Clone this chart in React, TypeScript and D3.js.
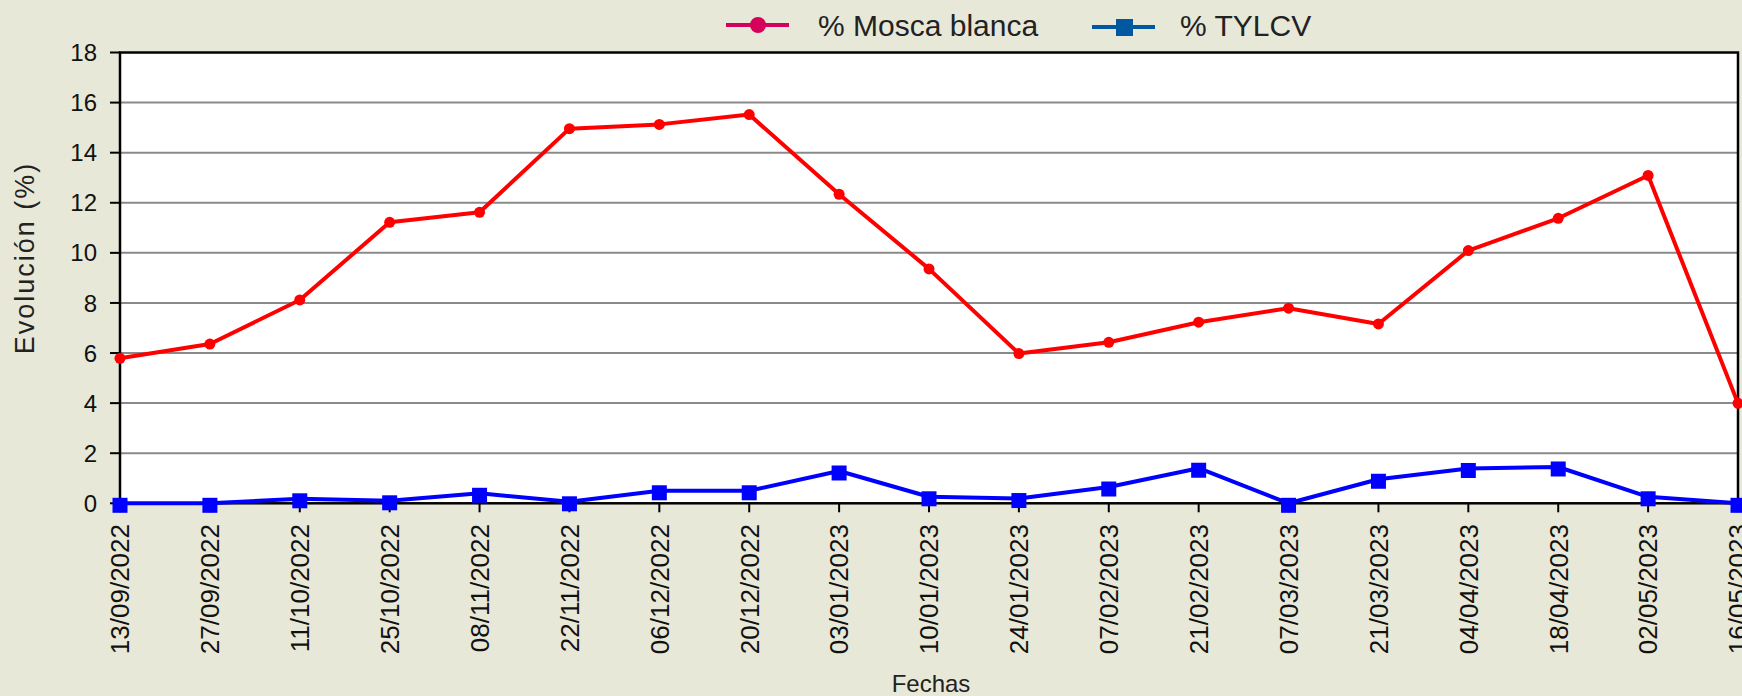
import * as d3 from 'd3';
import * as React from 'react';

const fechas = [
  '13/09/2022', '27/09/2022', '11/10/2022', '25/10/2022', '08/11/2022',
  '22/11/2022', '06/12/2022', '20/12/2022', '03/01/2023', '10/01/2023',
  '24/01/2023', '07/02/2023', '21/02/2023', '07/03/2023', '21/03/2023',
  '04/04/2023', '18/04/2023', '02/05/2023', '16/05/2023',
];

const moscaBlanca = [
  5.79, 6.36, 8.12, 11.22, 11.62, 14.96, 15.13, 15.52, 12.34, 9.36,
  5.98, 6.43, 7.23, 7.79, 7.16, 10.09, 11.38, 13.09, 3.99,
];

const tylcv = [
  0, 0, 0.18, 0.1, 0.4, 0.06, 0.5, 0.5, 1.29, 0.26,
  0.19, 0.65, 1.4, 0, 0.96, 1.39, 1.45, 0.26, 0,
];

const yTicks = [0, 2, 4, 6, 8, 10, 12, 14, 16, 18];

const W = 1742;
const H = 696;
const FONT = '"Liberation Sans", Arial, sans-serif';

const App = () => {
  React.useEffect(() => {
    document.body.style.margin = '0';
  }, []);

  const x = d3.scalePoint<string>().domain(fechas).range([120, 1738]);
  const y = d3.scaleLinear().domain([0, 18]).range([503.3, 52.5]);

  const line = d3.line<number>()
    .x((d, i) => x(fechas[i]) as number)
    .y((d) => y(d));

  const left = 120;
  const right = 1738;

  return (
    <svg width={W} height={H} style={{ display: 'block', background: '#e8e8d8' }}>
      <rect x={left} y={y(18)} width={right - left} height={y(0) - y(18)} fill="#fff" />

      {yTicks.filter((t) => t > 0 && t < 18).map((t) => (
        <line key={t} x1={left} x2={right} y1={y(t)} y2={y(t)} stroke="#8a8a8a" strokeWidth={2} />
      ))}

      <rect x={left} y={y(18)} width={right - left} height={y(0) - y(18)} fill="none" stroke="#000" strokeWidth={2.5} />

      {yTicks.map((t) => (
        <g key={t}>
          <line x1={left - 10} x2={left} y1={y(t)} y2={y(t)} stroke="#000" strokeWidth={2} />
          <text x={97} y={y(t)} dy="0.36em" textAnchor="end" fontFamily={FONT} fontSize={24} fill="#111">
            {t}
          </text>
        </g>
      ))}

      {fechas.map((f) => (
        <g key={f}>
          <line x1={x(f)} x2={x(f)} y1={y(0)} y2={y(0) + 9} stroke="#000" strokeWidth={2} />
          <text
            transform={`translate(${x(f)},524) rotate(-90)`}
            textAnchor="end"
            dy="0.36em"
            fontFamily={FONT}
            fontSize={26}
            fill="#111"
          >
            {f}
          </text>
        </g>
      ))}

      <path d={line(moscaBlanca) as string} fill="none" stroke="#ff0000" strokeWidth={4} strokeLinejoin="round" />
      {moscaBlanca.map((v, i) => (
        <circle key={i} cx={x(fechas[i])} cy={y(v)} r={5.5} fill="#ff0000" />
      ))}

      <path d={line(tylcv) as string} fill="none" stroke="#0000ff" strokeWidth={4} strokeLinejoin="round" />
      {tylcv.map((v, i) => (
        <rect key={i} x={(x(fechas[i]) as number) - 7.5} y={y(v) - 7.5 + 2} width={15} height={15} fill="#0000ff" />
      ))}

      <text
        transform="translate(34,258) rotate(-90)"
        textAnchor="middle"
        fontFamily={FONT}
        fontSize={27}
        letterSpacing={2}
        fill="#222"
      >
        Evolución (%)
      </text>

      <text x={931} y={692} textAnchor="middle" fontFamily={FONT} fontSize={24} fill="#222">
        Fechas
      </text>

      <g>
        <line x1={726} x2={789} y1={25} y2={25} stroke="#d4005a" strokeWidth={4} />
        <circle cx={758} cy={25} r={8} fill="#d4005a" />
        <text x={818} y={25} dy="0.36em" fontFamily={FONT} fontSize={30} fill="#222">
          % Mosca blanca
        </text>
        <line x1={1092} x2={1155} y1={27} y2={27} stroke="#0058a0" strokeWidth={4} />
        <rect x={1116} y={19} width={17} height={17} fill="#0058a0" />
        <text x={1180} y={25} dy="0.36em" fontFamily={FONT} fontSize={30} fill="#222">
          % TYLCV
        </text>
      </g>
    </svg>
  );
};

export default App;
